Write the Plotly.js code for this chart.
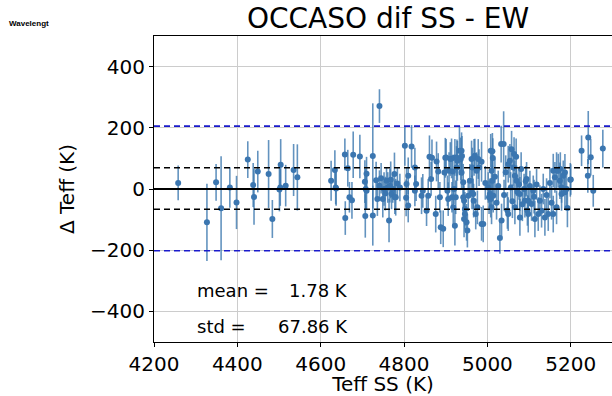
<!DOCTYPE html>
<html>
<head>
<meta charset="utf-8">
<script src="https://cdn.plot.ly/plotly-3.0.1.min.js"></script>
<style>html,body{margin:0;padding:0;background:#fff;}#chart{width:612px;height:396px;}</style>
</head>
<body>
<div id="chart"></div>
<script>
// Teff SS (K)
const teffSS = [
4258,4327,4349,4361,4382,4398,4425,4438,4440,4449,4475,4484,4501,4504,4503,4516,4535,4544,
4625,4634,4636,4637,4658,4659,4665,4669,4675,4678,4694,4706,4707,4710,4710,4708,4725,4725,4733,4736,4741,4741,4749,4752,4758,4761,4764,4766,4770,4773,4777,4778,4780,4784,4745,4755,4768,4790,
4802,4818,4805,4806,4810,4810,4826,4829,4826,4842,4845,4854,4858,4861,4867,4865,4876,4878,4882,4886,4888,4894,4897,4899,4901,4904,4906,4908,4911,4914,4915,4917,4918,4920,4922,4922,4924,4926,4927,4928,4933,4936,4938,4939,4938,4942,4942,4944,4944,4946,4946,4950,4952,4954,4958,4962,4963,4964,4966,4967,4968,4970,4972,4974,4976,4978,4980,4986,4986,4990,4995,
5002,5004,5006,5008,5008,5010,5010,5012,5012,5013,5014,5018,5022,5026,5030,5033,5034,5039,5040,5044,5048,5050,5050,5054,5056,5058,5060,5062,5064,5066,5066,5069,5070,5072,5076,5078,5078,5081,5084,5088,5090,5092,5094,5096,5098,5098,5102,5106,5110,5112,5114,5118,5122,5126,5130,5134,5138,5142,5146,5150,5154,5158,5158,5162,5166,5166,5170,5174,5175,5178,5178,5182,5186,5186,5190,5192,5200,5199,5226,5242,5248,5241,5254,5277
];
// Delta Teff (K)
const deltaTeff = [
20,-109,22,-63,5,-44,96,13,-26,57,49,-98,-2,79,5,11,62,38,
27,62,5,2,113,-95,68,-27,-37,112,106,24,-88,50,-6,0,108,-87,29,-33,271,11,-33,0,27,5,-103,11,-16,0,49,-27,-27,18,35,-15,30,5,
141,139,-29,16,43,-54,70,16,-6,-22,-6,-71,-22,105,102,33,-82,90,57,-27,-125,-130,54,102,103,-6,-33,60,98,100,-27,57,-60,0,-120,103,-27,70,102,92,125,98,125,108,54,22,-27,-38,-98,-65,-82,-109,-136,-22,27,98,-11,70,-16,-38,103,109,-82,60,-60,98,70,89,-114,-114,20,
5,-27,-16,125,-33,60,-60,27,123,101,-22,40,-45,10,-160,147,-103,147,-20,55,-70,81,-82,92,5,130,-40,70,114,43,-60,105,27,-10,15,-16,-93,65,-50,0,-38,25,33,-70,-82,-38,10,-49,-6,-25,-98,15,-82,-38,-71,0,-93,-20,-82,20,-45,-82,60,38,60,-60,60,27,65,5,-16,43,54,-11,0,-62,31,30,125,168,104,43,-6,132
];
// Uncertainty (K)
const errTeff = [
57,126,60,170,66,87,60,72,91,68,111,62,71,84,60,68,85,108,
65,65,55,57,52,55,60,50,60,76,71,70,71,55,60,65,172,98,60,55,55,50,60,55,45,50,71,55,50,45,70,55,60,50,50,55,60,45,
65,70,60,55,60,55,65,55,50,60,55,50,55,70,60,55,60,65,60,50,55,60,55,65,60,50,55,60,55,65,50,55,60,50,65,60,55,70,60,65,80,70,60,65,55,60,55,50,60,55,50,60,55,50,55,60,55,65,50,55,60,55,50,60,55,65,60,65,55,60,55,
50,55,50,55,60,60,55,50,60,65,55,60,55,50,52,60,55,107,50,55,60,60,55,55,50,60,55,60,55,50,55,60,50,55,50,55,60,55,55,50,55,50,55,50,60,55,50,55,50,55,60,50,55,50,55,50,60,55,55,50,55,60,55,50,60,55,55,60,55,50,55,50,60,55,60,63,50,55,50,87,60,55,52,62
];
const meanVal = 1.78;
const stdVal = 67.86;
const xTicks = [4200,4400,4600,4800,5000,5200];
const yTicks = [-400,-200,0,200,400];

const font = 'DejaVu Sans, Liberation Sans, sans-serif';
const trace = {
  x: teffSS, y: deltaTeff, type: 'scatter', mode: 'markers',
  marker: {color: '#3b76b0', size: 6},
  error_y: {type: 'data', array: errTeff, visible: true, color: 'rgba(60,120,175,0.8)', thickness: 1.6, width: 0},
  hoverinfo: 'x+y', showlegend: false
};
function hline(y, color, dash, w) {
  return {type: 'line', xref: 'paper', x0: 0, x1: 1, yref: 'y', y0: y, y1: y,
    line: {color: color, width: w, dash: dash}, layer: 'above'};
}
const layout = {
  width: 612, height: 396,
  margin: {l: 154, r: 0, t: 36, b: 54, pad: 0},
  paper_bgcolor: '#fff', plot_bgcolor: '#fff',
  font: {family: font, color: '#000'},
  title: {text: 'OCCASO dif SS - EW', font: {family: font, size: 28, color: '#000'},
    x: 388/612, xref: 'container', xanchor: 'center', y: 1 - 18/396, yref: 'container', yanchor: 'middle'},
  xaxis: {range: [4200, 5299], tickvals: xTicks, ticktext: xTicks.map(String),
    showgrid: true, gridcolor: '#cccccc', gridwidth: 1, zeroline: false,
    showline: true, linecolor: '#000', linewidth: 1, mirror: true,
    ticks: 'outside', ticklen: 4, tickcolor: '#000', tickfont: {family: font, size: 20},
    title: {text: 'Teff SS (K)', font: {family: font, size: 20}, standoff: 6}, automargin: false},
  yaxis: {range: [-500, 500], tickvals: yTicks, ticktext: yTicks.map(v => v < 0 ? '\u2212' + Math.abs(v) : String(v)),
    showgrid: true, gridcolor: '#cccccc', gridwidth: 1, zeroline: false,
    showline: true, linecolor: '#000', linewidth: 1, mirror: false,
    ticks: 'outside', ticklen: 4, tickcolor: '#000', tickfont: {family: font, size: 20},
    title: {text: '\u0394 Teff (K)', font: {family: font, size: 20}, standoff: 10}, automargin: false},
  shapes: [
    hline(0, '#000', 'solid', 2),
    hline(meanVal + stdVal, '#000', '6px,4px', 1.6),
    hline(meanVal - stdVal, '#000', '6px,4px', 1.6),
    hline(meanVal + 3*stdVal, '#1a1acc', '6px,4px', 1.6),
    hline(meanVal - 3*stdVal, '#1a1acc', '6px,4px', 1.6)
  ],
  annotations: [
    {x: 4299, y: -332, xref: 'x', yref: 'y', text: 'mean =', showarrow: false, xanchor: 'left', yanchor: 'middle', font: {family: font, size: 18}},
    {x: 4671, y: -332, xref: 'x', yref: 'y', text: meanVal.toFixed(2) + ' K', showarrow: false, xanchor: 'right', yanchor: 'middle', font: {family: font, size: 18}},
    {x: 4299, y: -449, xref: 'x', yref: 'y', text: 'std =', showarrow: false, xanchor: 'left', yanchor: 'middle', font: {family: font, size: 18}},
    {x: 4671, y: -449, xref: 'x', yref: 'y', text: stdVal.toFixed(2) + ' K', showarrow: false, xanchor: 'right', yanchor: 'middle', font: {family: font, size: 18}},
    {x: -147/458, y: (342 - 24)/306, xref: 'paper', yref: 'paper', text: '<b>Wavelengt</b>', showarrow: false, xanchor: 'left', yanchor: 'middle', font: {family: 'Liberation Sans, sans-serif', size: 8, color: '#000'}}
  ]
};
Plotly.newPlot('chart', [trace], layout, {staticPlot: true, displayModeBar: false});
</script>
</body>
</html>
